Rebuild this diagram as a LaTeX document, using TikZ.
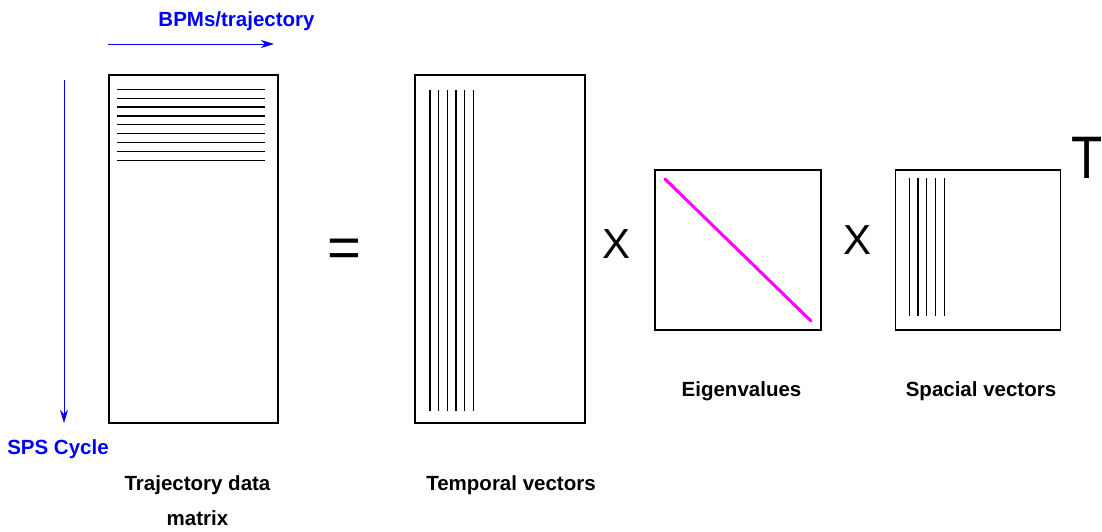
\documentclass[tikz,border=0pt]{standalone}
\usepackage{fontspec}
\setmainfont{Liberation Sans}
\usepackage{tikz}
\usetikzlibrary{arrows.meta,positioning}
\definecolor{axisblue}{HTML}{0000FF}
\definecolor{diagpink}{HTML}{FF00FF}

\begin{document}
\begin{tikzpicture}[
  x=1pt, y=-1pt,
  mat/.style={draw, line width=1.1pt, inner sep=0pt, minimum width=#1},
  lbl/.style={anchor=base, inner sep=0pt, font=\fontsize{20.5}{24}\selectfont\bfseries},
  axislbl/.style={lbl, text=axisblue},
  op/.style={anchor=base, inner sep=0pt, font=\fontsize{42}{50}\selectfont},
  row/.style={line width=1.2pt},
  axis/.style={-{Stealth[length=13pt, width=8pt, inset=4pt]}, axisblue, line width=1pt},
  >=Stealth
]
\useasboundingbox (0,0) rectangle (1102,531);

% matrices
\node[mat=169pt, minimum height=348pt] (traj) at (193.5, 249) {};
\node[mat=170pt, minimum height=348pt] (temp) at (500, 249) {};
\node[mat=166pt, minimum height=160pt] (eig) at (738, 250) {};
\node[mat=165pt, minimum height=160pt] (spat) at (978, 250) {};

% contents
\foreach \y in {0,...,8}
  \draw[row] (117, 89.3+8.875*\y) -- (265, 89.3+8.875*\y);
\foreach \x in {0,...,5}
  \draw[row] (430+8.67*\x, 90) -- (430+8.67*\x, 411);
\foreach \x in {0,...,4}
  \draw[row] (909.3+8.75*\x, 178) -- (909.3+8.75*\x, 316);
\draw[diagpink, line width=3pt, line cap=round] (665, 179) -- (811, 321);

% axes
\coordinate (bpmA) at (108, 44);
\coordinate (bpmB) at (274, 44);
\coordinate (spsA) at (64, 80);
\coordinate (spsB) at (64, 423);
\draw[axis] (bpmA) -- (bpmB);
\draw[axis] (spsA) -- (spsB);
\node[axislbl] (bpms) at (236.5, 26) {BPMs/trajectory};
\node[axislbl] (sps) at (58, 454) {SPS Cycle};

% operators
\node[anchor=base, inner sep=0pt, font=\fontsize{58}{60}\selectfont] (eq) at (344, 267) {=};
\node[op] (times1) at (616.5, 258) {X};
\node[op] (times2) at (857, 254) {X};
\node[anchor=base, inner sep=0pt, xscale=0.85, font=\fontsize{60}{64}\selectfont] (transp) at (1087, 178) {T};

% captions
\node[lbl] (trajlbl) at (197.5, 490) {Trajectory data};
\node[lbl] (trajlbl2) at (197.5, 525) {matrix};
\node[lbl] (templbl) at (511, 490) {Temporal vectors};
\node[lbl] (eiglbl) at (741.5, 396) {Eigenvalues};
\node[lbl] (spatlbl) at (981, 396) {Spacial vectors};

\end{tikzpicture}
\end{document}
